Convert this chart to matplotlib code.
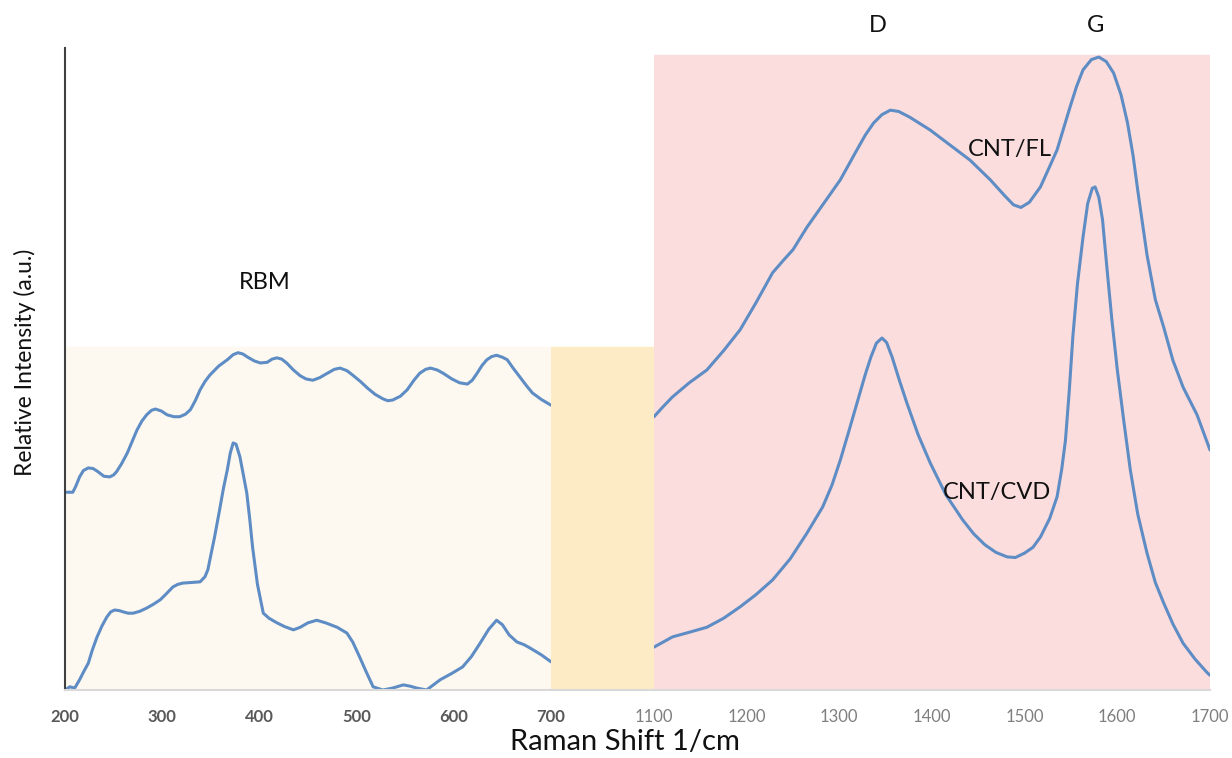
import matplotlib
matplotlib.use("Agg")
from matplotlib import pyplot as plt

# RBM region (200-700 1/cm)
rbm_x_fl = [200, 208, 211, 215, 219, 224, 229, 234, 240, 246, 250, 253, 258, 264, 269, 274, 279,
            284, 289, 293, 299, 305, 312, 318, 324, 329, 334, 339, 344, 349, 358, 367, 373, 378,
            383, 388, 395, 401, 408, 413, 418, 423, 428, 435, 442, 448, 455, 462, 470, 477, 483,
            490, 496, 504, 511, 519, 527, 532, 537, 545, 552, 559, 565, 571, 576, 583, 589, 598,
            606, 614, 619, 624, 629, 634, 639, 644, 650, 655, 661, 668, 675, 681, 690, 700]
rbm_y_fl = [30.9, 30.9, 31.8, 33.3, 34.3, 34.7, 34.6, 34.1, 33.4, 33.3, 33.6, 34.1, 35.3, 37.0,
            38.8, 40.6, 42.0, 43.0, 43.7, 43.9, 43.6, 43.0, 42.7, 42.7, 43.1, 43.8, 45.2, 46.9,
            48.2, 49.2, 50.6, 51.6, 52.4, 52.7, 52.5, 52.0, 51.4, 51.1, 51.2, 51.7, 51.9, 51.7,
            51.1, 50.0, 49.1, 48.6, 48.4, 48.8, 49.5, 50.1, 50.3, 49.9, 49.2, 48.2, 47.2, 46.2,
            45.5, 45.2, 45.3, 45.9, 46.9, 48.4, 49.5, 50.1, 50.3, 50.0, 49.5, 48.6, 48.0, 47.8,
            48.4, 49.5, 50.7, 51.6, 52.1, 52.3, 52.0, 51.6, 50.3, 48.9, 47.5, 46.4, 45.4, 44.5]

rbm_x_cvd = [200, 205, 210, 215, 219, 224, 228, 233, 238, 243, 247, 251, 256, 260, 265, 270, 277,
             284, 291, 298, 304, 311, 316, 321, 330, 339, 344, 347, 349, 354, 359, 363, 367, 370,
             373, 376, 380, 384, 387, 390, 393, 398, 404, 410, 418, 426, 435, 442, 450, 459, 468,
             480, 490, 496, 503, 510, 517, 527, 537, 548, 555, 562, 572, 579, 586, 598, 609, 618,
             627, 636, 644, 650, 657, 665, 672, 678, 690, 700]
rbm_y_cvd = [0.0, 0.5, 0.3, 1.6, 2.8, 4.2, 6.2, 8.3, 10.0, 11.4, 12.2, 12.5, 12.4, 12.2, 12.0,
             12.0, 12.3, 12.8, 13.4, 14.1, 15.0, 16.1, 16.5, 16.7, 16.8, 16.9, 17.7, 18.8, 20.3,
             24.0, 28.1, 31.5, 34.4, 37.0, 38.6, 38.4, 36.4, 33.2, 30.8, 26.8, 22.3, 16.5, 12.0,
             11.2, 10.5, 9.9, 9.4, 9.8, 10.5, 10.9, 10.5, 9.8, 8.9, 7.5, 5.2, 2.8, 0.5, 0.0, 0.3,
             0.8, 0.6, 0.3, 0.0, 0.8, 1.6, 2.6, 3.6, 5.2, 7.3, 9.5, 10.9, 10.2, 8.6, 7.5, 7.1,
             6.6, 5.5, 4.4]

# D / G region (1100-1700 1/cm)
dg_x_fl = [1100, 1110, 1120, 1138, 1157, 1175, 1193, 1210, 1228, 1240, 1250, 1265, 1283, 1301,
           1319, 1328, 1337, 1346, 1355, 1364, 1376, 1398, 1419, 1441, 1463, 1478, 1488, 1496,
           1505, 1517, 1527, 1535, 1549, 1556, 1563, 1572, 1580, 1588, 1596, 1604, 1611, 1617,
           1622, 1632, 1641, 1650, 1660, 1671, 1686, 1700]
dg_y_fl = [42.7, 44.3, 45.8, 48.0, 50.0, 53.0, 56.3, 60.5, 65.2, 67.2, 68.8, 72.3, 76.0, 79.7,
           84.4, 86.7, 88.6, 89.9, 90.6, 90.4, 89.5, 87.5, 85.2, 82.8, 79.7, 77.3, 75.8, 75.4,
           76.2, 78.6, 81.8, 84.4, 91.1, 94.3, 96.9, 98.5, 98.9, 98.2, 96.4, 93.0, 88.6, 83.5,
           78.1, 68.0, 61.0, 56.7, 51.5, 47.3, 43.0, 37.5]

dg_x_cvd = [1100, 1120, 1140, 1157, 1175, 1193, 1210, 1228, 1247, 1265, 1282, 1292, 1301, 1310,
            1319, 1328, 1334, 1340, 1346, 1351, 1357, 1365, 1373, 1385, 1398, 1415, 1433, 1445,
            1457, 1469, 1481, 1490, 1500, 1509, 1517, 1527, 1535, 1540, 1544, 1548, 1552, 1557,
            1563, 1568, 1573, 1576, 1580, 1584, 1589, 1594, 1600, 1607, 1614, 1622, 1632, 1641,
            1650, 1660, 1671, 1684, 1697, 1700]
dg_y_cvd = [6.7, 8.3, 9.1, 9.8, 11.2, 13.0, 14.9, 17.2, 20.5, 24.5, 28.6, 32.0, 35.9, 40.3, 44.8,
            49.3, 52.0, 54.2, 55.0, 54.3, 52.0, 48.3, 44.8, 39.9, 35.5, 30.5, 26.6, 24.4, 22.7,
            21.5, 20.8, 20.7, 21.4, 22.3, 23.9, 26.8, 30.2, 34.5, 39.0, 46.5, 55.2, 63.5, 70.8,
            76.0, 78.4, 78.6, 77.0, 73.5, 65.6, 58.0, 50.0, 42.0, 34.4, 27.5, 21.4, 16.8, 13.6,
            10.3, 7.3, 4.8, 2.7, 2.3]

left_ticks = [200, 300, 400, 500, 600, 700]
right_ticks = [1100, 1200, 1300, 1400, 1500, 1600, 1700]

line_col = "#5E8CC4"
cream = "#FEF9F0"
yellow = "#FDEBC6"
pink = "#FCDDDD"

plt.rcParams["font.family"] = ["Lato", "DejaVu Sans"]

W, H = 1232, 758
fig = plt.figure(figsize=(W / 100, H / 100), dpi=100)

def box(x0, x1):
    return [x0 / W, (H - 690) / H, (x1 - x0) / W, 642 / H]

ymax = 642 / 6.4

ax1 = fig.add_axes(box(65, 551))
ax2 = fig.add_axes(box(551, 654))
ax3 = fig.add_axes(box(654, 1210))

for ax in (ax1, ax2, ax3):
    ax.set_ylim(0, ymax)
    ax.set_facecolor("none")
    ax.set_yticks([])
    for s in ("top", "right", "left"):
        ax.spines[s].set_visible(False)
    ax.spines["bottom"].set_color("#d9d9d9")
    ax.spines["bottom"].set_linewidth(1.5)
    ax.tick_params(axis="x", length=0, pad=14)

ax1.spines["left"].set_visible(True)
ax1.spines["left"].set_color("#404040")
ax1.spines["left"].set_linewidth(1.5)

kw = dict(color=line_col, lw=2.2, solid_joinstyle="round", solid_capstyle="round")

ax1.set_xlim(200, 700)
ax1.axhspan(0, 53.6, color=cream, zorder=0)
ax1.plot(rbm_x_fl, rbm_y_fl, **kw)
ax1.plot(rbm_x_cvd, rbm_y_cvd, **kw)
ax1.set_xticks(left_ticks)
ax1.set_xticklabels([str(t) for t in left_ticks], fontsize=12, fontweight="bold", color="#595959")
ax1.text(406, 63.6, "RBM", fontsize=17, ha="center", va="center", color="#111111")

ax2.set_xlim(700, 1100)
ax2.axhspan(0, 53.6, color=yellow, zorder=0)
ax2.set_xticks([])

ax3.set_xlim(1100, 1700)
ax3.axhspan(0, 99.2, color=pink, zorder=0)
ax3.plot(dg_x_fl, dg_y_fl, **kw)
ax3.plot(dg_x_cvd, dg_y_cvd, **kw)
ax3.set_xticks(right_ticks)
ax3.set_xticklabels([str(t) for t in right_ticks], fontsize=12, color="#7f7f7f")
ax3.text(1484, 84.4, "CNT/FL", fontsize=17, ha="center", va="center", color="#111111")
ax3.text(1470, 30.9, "CNT/CVD", fontsize=17, ha="center", va="center", color="#111111")
ax3.text(1342, 103.9, "D", fontsize=17, ha="center", va="center", color="#111111", clip_on=False)
ax3.text(1577, 103.9, "G", fontsize=17, ha="center", va="center", color="#111111", clip_on=False)

fig.text(25 / W, (H - 362) / H, "Relative Intensity (a.u.)", rotation=90, fontsize=16.5,
         ha="center", va="center", color="#111111")
fig.text(625 / W, (H - 742) / H, "Raman Shift 1/cm", fontsize=21, ha="center", va="center",
         color="#111111")

fig.savefig("out.png", dpi=100)
